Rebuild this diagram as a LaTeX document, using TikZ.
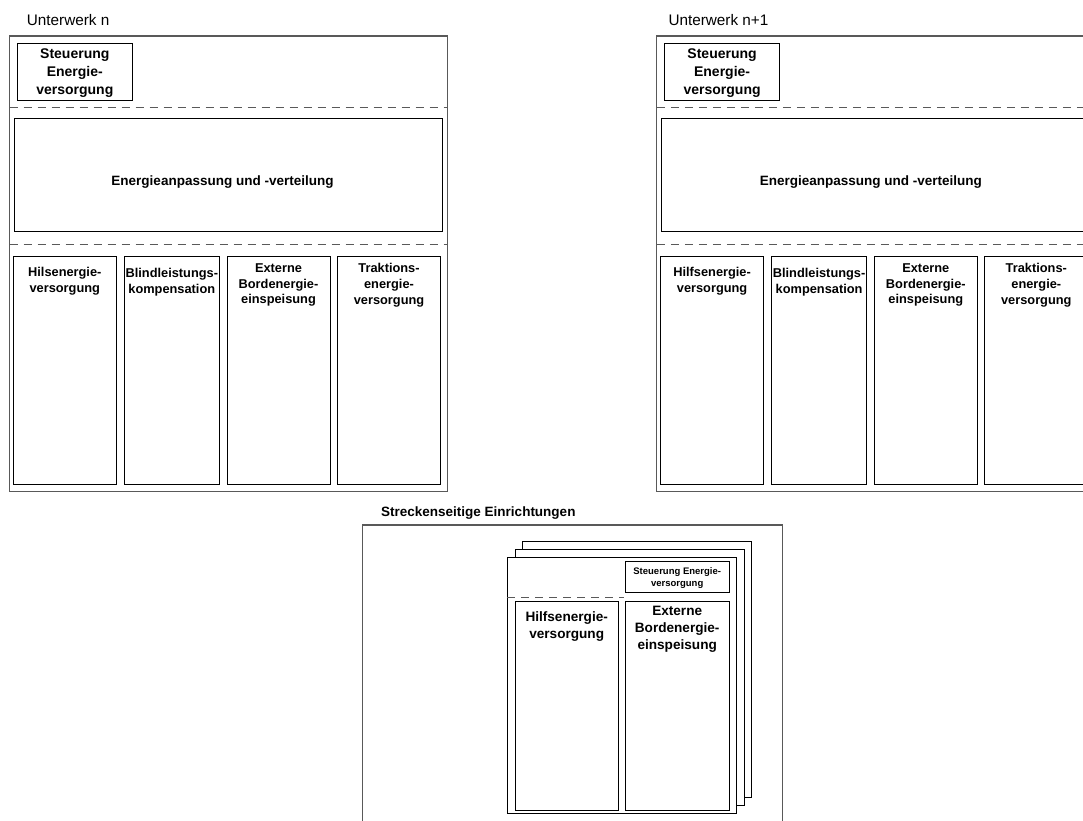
\documentclass[tikz,border=0pt]{standalone}
\usepackage{fontspec}
\setmainfont{Liberation Sans}
\begin{document}
\begin{tikzpicture}[x=1pt,y=-1pt,
  frame/.style={draw=black!65,line width=1.1pt},
  box/.style={draw=black,line width=1pt,fill=white},
  sep/.style={draw=black!65,line width=1pt,dash pattern=on 8pt off 6pt},
  title/.style={anchor=west,inner sep=0pt,font=\fontsize{15.3}{18}\selectfont},
  btitle/.style={anchor=west,inner sep=0pt,font=\fontsize{13.5}{16}\selectfont\bfseries},
  steu/.style={anchor=north,inner sep=0pt,align=center,font=\fontsize{14}{18}\selectfont\bfseries},
  mid/.style={inner sep=0pt,font=\fontsize{13.5}{16}\selectfont\bfseries},
  col/.style={anchor=north,inner sep=0pt,align=center,font=\fontsize{12.8}{15.8}\selectfont\bfseries},
  scol/.style={anchor=north,inner sep=0pt,align=center,font=\fontsize{13.6}{17}\selectfont\bfseries},
  tiny/.style={anchor=north,inner sep=0pt,align=center,font=\fontsize{9.5}{11.5}\selectfont\bfseries}]
\useasboundingbox (0,0) rectangle (1083,820);
\clip (0,0) rectangle (1083,820);

% substation n
\node[title] (tA) at (26.7,20) {Unterwerk n};
\draw[frame] (9.5,36) rectangle (447.7,491.7);
\draw[box] (17.3,43.3) rectangle (132.3,100);
\node[steu] (sA) at (74.8,48.1) {Steuerung\\Energie-\\versorgung};
\draw[sep] (9.5,107.7) -- (447.7,107.7);
\draw[box] (14.3,118.3) rectangle (442.7,231.7);
\node[mid] (eA) at (222.5,181.7) {Energieanpassung und -verteilung};
\draw[sep] (9.5,244.3) -- (447.7,244.3);
\draw[box] (13.3,256) rectangle (116.3,484.3);
\draw[box] (124.3,256) rectangle (219.3,484.3);
\draw[box] (227,256) rectangle (330,484.3);
\draw[box] (337.3,256) rectangle (440.7,484.3);
\node[col] (a1) at (64.8,267.5) {Hilsenergie-\\versorgung};
\node[col] (a2) at (171.8,267.8) {Blindleistungs-\\kompensation};
\node[col] (a3) at (278.5,263.3) {Externe\\Bordenergie-\\einspeisung};
\node[col] (a4) at (389,263.3) {Traktions-\\energie-\\versorgung};

% substation n+1
\begin{scope}[xshift=647.3pt]
\draw[frame] (9.5,36) rectangle (447.7,491.7);
\draw[box] (17.3,43.3) rectangle (132.3,100);
\node[steu] (sB) at (74.8,48.1) {Steuerung\\Energie-\\versorgung};
\draw[sep] (9.5,107.7) -- (447.7,107.7);
\draw[box] (14.3,118.3) rectangle (442.7,231.7);
\node[mid] (eB) at (223.5,181.7) {Energieanpassung und -verteilung};
\draw[sep] (9.5,244.3) -- (447.7,244.3);
\draw[box] (13.3,256) rectangle (116.3,484.3);
\draw[box] (124.3,256) rectangle (219.3,484.3);
\draw[box] (227,256) rectangle (330,484.3);
\draw[box] (337.3,256) rectangle (440.7,484.3);
\node[col] (b1) at (64.8,267.5) {Hilfsenergie-\\versorgung};
\node[col] (b2) at (171.8,267.8) {Blindleistungs-\\kompensation};
\node[col] (b3) at (278.5,263.3) {Externe\\Bordenergie-\\einspeisung};
\node[col] (b4) at (389,263.3) {Traktions-\\energie-\\versorgung};
\end{scope}
\node[title] (tB) at (668.3,20) {Unterwerk n+1};

% trackside equipment
\node[btitle] (tC) at (381,513.3) {Streckenseitige Einrichtungen};
\draw[frame] (362.7,830) -- (362.7,525) -- (782.3,525) -- (782.3,830);
\draw[box] (522.7,541) rectangle (751.7,797.3);
\draw[box] (515,549.3) rectangle (744,805);
\draw[box] (507.3,557.3) rectangle (736.7,813.3);
\draw[box] (625.3,561) rectangle (729,592.7);
\node[tiny] (sC) at (677.2,567.5) {Steuerung Energie-\\versorgung};
\draw[sep] (507.3,597.3) -- (624,597.3);
\draw[box] (515,601.7) rectangle (618.3,810);
\draw[box] (625.3,601.7) rectangle (729,810);
\node[scol] (c1) at (566.7,611.8) {Hilfsenergie-\\versorgung};
\node[scol] (c2) at (677.2,605.8) {Externe\\Bordenergie-\\einspeisung};
\end{tikzpicture}
\end{document}
